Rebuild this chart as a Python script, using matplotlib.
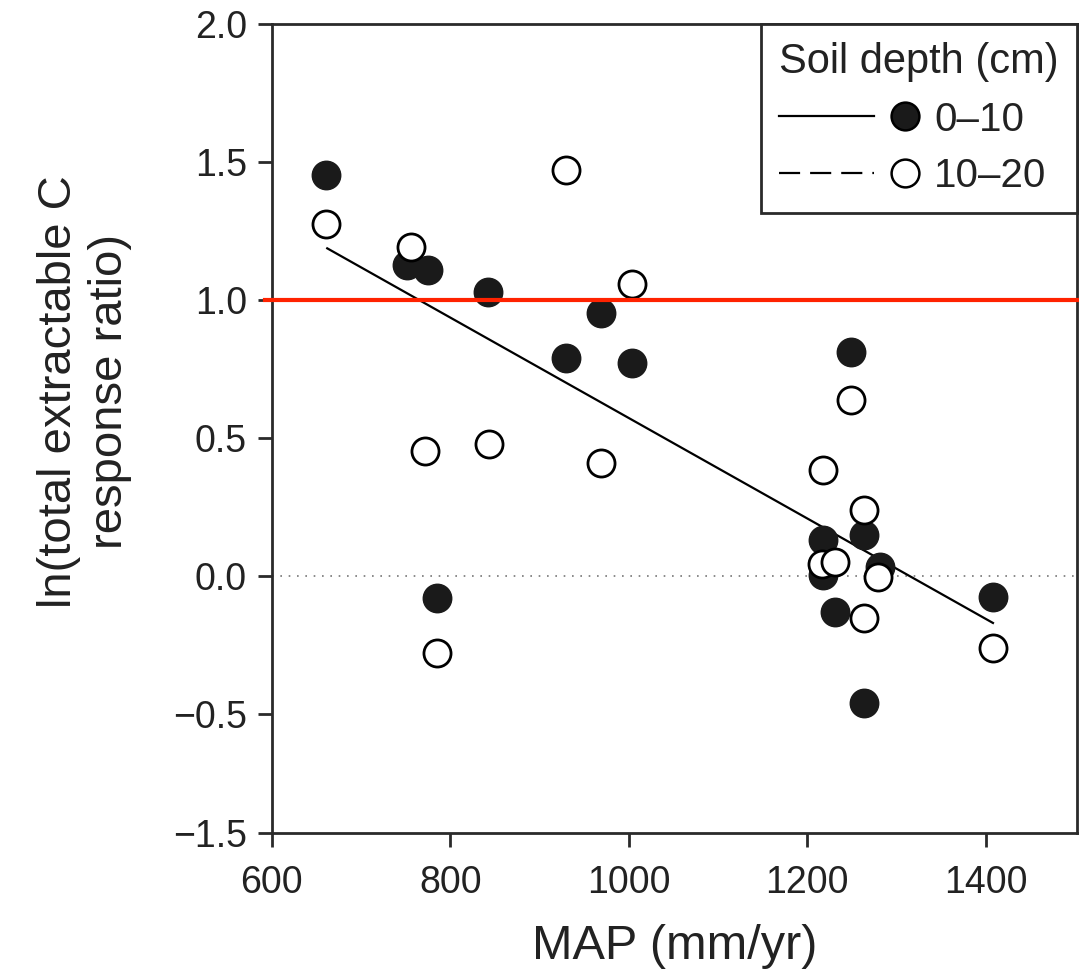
import matplotlib
matplotlib.use("Agg")
import matplotlib.pyplot as plt
from matplotlib.lines import Line2D
from matplotlib.legend_handler import HandlerBase

plt.rcParams['font.family'] = ['Liberation Sans', 'DejaVu Sans']

# 0-10 cm depth (filled circles)
map_0_10 = [661, 751, 775, 785, 842, 930, 969, 1003, 1218, 1218, 1231, 1249, 1263, 1263, 1281, 1408]
lnrr_0_10 = [1.453, 1.127, 1.109, -0.081, 1.03, 0.789, 0.954, 0.771, 0.130, 0.004, -0.129, 0.812, 0.149, -0.461, 0.034, -0.075]

# 10-20 cm depth (open circles)
map_10_20 = [661, 756, 771, 785, 843, 930, 969, 1003, 1216, 1218, 1231, 1249, 1263, 1263, 1279, 1408]
lnrr_10_20 = [1.278, 1.193, 0.453, -0.280, 0.478, 1.471, 0.409, 1.060, 0.042, 0.384, 0.052, 0.638, 0.239, -0.153, -0.003, -0.262]

# regression line endpoints (0-10 cm)
fit_x = [662, 1408]
fit_y = [1.188, -0.170]

ytick_vals = [2.0, 1.5, 1.0, 0.5, 0.0, -0.5, -0.931]
ytick_labels = ['2.0', '1.5', '1.0', '0.5', '0.0', '\u22120.5', '\u22121.5']
xtick_vals = [600, 800, 1000, 1200, 1400]


class LineDotHandler(HandlerBase):
    # line on the left, marker on the right (like "—— ● 0–10")
    def create_artists(self, legend, orig_handle, xdescent, ydescent,
                       width, height, fontsize, trans):
        ls, mfc = orig_handle
        y = height / 2 - ydescent
        x0 = -xdescent
        line = Line2D([x0, x0 + 0.67 * width], [y, y], color='black', lw=1.6,
                      transform=trans)
        if ls == '--':
            line.set_dashes((9.5, 4.5))
        dot = Line2D([x0 + 0.89 * width], [y], marker='o', ms=20, mfc=mfc,
                     mec='black', mew=1.8, ls='none', transform=trans)
        return [line, dot]


fig = plt.figure(figsize=(10.79, 9.73), dpi=100)
ax = fig.add_axes([0.252, 0.144, 0.746, 0.831])

ax.axhline(0, color='#777777', ls=(0, (1, 4)), lw=1.2, zorder=1)
ax.plot(fit_x, fit_y, color='black', lw=1.6, zorder=2)
ax.scatter(map_0_10, lnrr_0_10, s=20.5**2, c='#1a1a1a', edgecolors='#1a1a1a', zorder=3)
ax.scatter(map_10_20, lnrr_10_20, s=19.5**2, facecolors='white', edgecolors='black',
           linewidths=2, zorder=4)
ax.axhline(1.0, xmin=-0.008, xmax=1.0, color='#ff2200', lw=3, zorder=5, clip_on=False)

ax.set_xlim(600, 1502)
ax.set_ylim(-0.931, 2.0)
ax.set_xticks(xtick_vals)
ax.set_yticks(ytick_vals)
ax.set_yticklabels(ytick_labels)

for sp in ax.spines.values():
    sp.set_linewidth(2)
    sp.set_color('#2a2a2a')
ax.tick_params(direction='out', length=10, width=2, color='#2a2a2a',
               labelsize=27, labelcolor='#222222')
ax.tick_params(axis='x', pad=13)
ax.tick_params(axis='y', pad=8)

ax.set_xlabel('MAP (mm/yr)', fontsize=35, color='#222222', labelpad=17)
ax.set_ylabel('ln(total extractable C\nresponse ratio)', fontsize=34,
              color='#222222', linespacing=1.2)
ax.yaxis.set_label_coords(-0.174, 0.546)

handles = [('-', '#1a1a1a'), ('--', 'white')]
leg = ax.legend(handles, ['0\u201310', '10\u201320'], title='Soil depth (cm)',
                handler_map={tuple: LineDotHandler()}, loc='upper right',
                borderaxespad=0, fancybox=False, edgecolor='#2a2a2a',
                fontsize=29, title_fontsize=30, handlelength=3.5,
                handletextpad=0.35, labelspacing=0.45, borderpad=0.45,
                framealpha=1)
leg.get_frame().set_linewidth(2)
leg._legend_box.align = 'left'
for t in leg.get_texts():
    t.set_color('#222222')
leg.get_title().set_color('#222222')

fig.savefig('out.png', dpi=100)
